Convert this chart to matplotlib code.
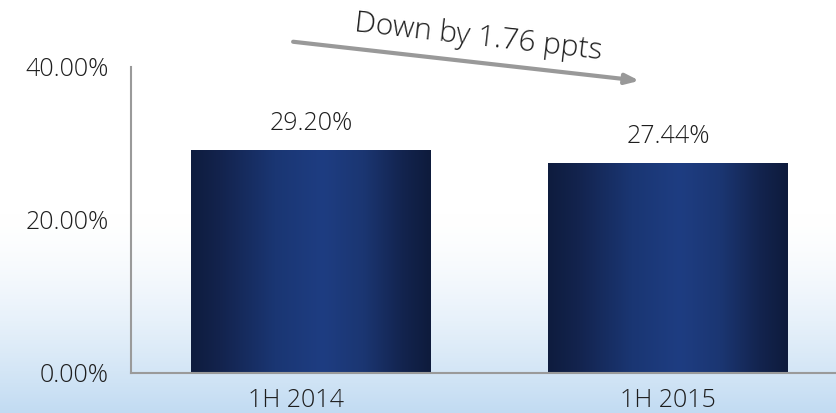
import numpy as np
import matplotlib
matplotlib.use("Agg")
import matplotlib.pyplot as plt
from matplotlib.colors import LinearSegmentedColormap
from matplotlib.ticker import FuncFormatter
from matplotlib.transforms import ScaledTranslation

plt.rcParams['font.family'] = ['Open Sans', 'DejaVu Sans']
plt.rcParams['font.weight'] = 'light'

categories = ["1H 2014", "1H 2015"]
values = [29.20, 27.44]
value_labels = ["29.20%", "27.44%"]
yticks = [0, 20, 40]
note = "Down by 1.76 ppts"

fig = plt.figure(figsize=(8.37, 4.13), dpi=100)

# soft light-blue wash towards the bottom of the figure
bg = fig.add_axes([0, 0, 1, 1], zorder=0)
bg.set_axis_off()
t = np.linspace(0, 1, 256)
alpha = np.clip((t - 0.52) / 0.48, 0, 1) ** 1.5
top = np.array([1.0, 1.0, 1.0])
bottom = np.array([0.76, 0.86, 0.95])
rows = top[None, :] * (1 - alpha[:, None]) + bottom[None, :] * alpha[:, None]
grad = np.repeat(rows[:, None, :], 4, axis=1)
bg.imshow(grad, aspect='auto', extent=[0, 1, 0, 1], origin='upper')
bg.set_xlim(0, 1)
bg.set_ylim(0, 1)

ax = fig.add_axes([0.1565, 0.0969, 0.8435, 0.7409], zorder=1)
ax.patch.set_alpha(0)

x = np.arange(len(categories))
width = 0.672
bars = ax.bar(x, values, width=width, color='none', edgecolor='none')

bar_cmap = LinearSegmentedColormap.from_list(
    "barshade",
    [(0.0, "#0e1c3e"), (0.12, "#13234d"), (0.35, "#1a3673"),
     (0.55, "#1e3d82"), (0.72, "#1b3672"), (0.88, "#13244f"), (1.0, "#0e1b3c")])
shade = np.linspace(0, 1, 256)[None, :]
for b in bars:
    x0, y0 = b.get_x(), b.get_y()
    w, h = b.get_width(), b.get_height()
    im = ax.imshow(shade, cmap=bar_cmap, aspect='auto',
                   extent=[x0, x0 + w, y0, y0 + h], zorder=2)
    im.set_clip_path(b)

txt_color = '#1e1e1e'
for xi, v, lab in zip(x, values, value_labels):
    ax.annotate(lab, (xi, v), xytext=(0, 10), textcoords='offset points',
                ha='center', va='bottom', fontsize=18, color=txt_color)

ax.set_xlim(-0.504, 1.473)
ax.set_ylim(0, 40)
ax.set_xticks(x)
ax.set_xticklabels(categories)
ax.set_yticks(yticks)
ax.yaxis.set_major_formatter(FuncFormatter(lambda v, p: f"{v:.2f}%"))
ax.tick_params(axis='both', length=0, labelsize=18, colors=txt_color)
ax.tick_params(axis='y', pad=16)
ax.tick_params(axis='x', pad=11)

# first category label sits a little left of its bar
first = ax.get_xticklabels()[0]
first.set_transform(first.get_transform() +
                    ScaledTranslation(-15 / 100, 0, fig.dpi_scale_trans))

for s in ['top', 'right']:
    ax.spines[s].set_visible(False)
for s in ['left', 'bottom']:
    ax.spines[s].set_color('#9a9a9a')
    ax.spines[s].set_linewidth(1.5)

ax.annotate("", xy=(0.92, 38.2), xytext=(-0.05, 43.3),
            xycoords='data', textcoords='data', annotation_clip=False,
            arrowprops=dict(arrowstyle='-|>,head_length=0.8,head_width=0.3',
                            color='#999999', lw=3.0, shrinkA=0, shrinkB=0))
ax.text(0.47, 43.9, note, rotation=-6.5, ha='center', va='center',
        fontsize=21.5, color=txt_color, clip_on=False)

fig.savefig("out.png", dpi=100)
